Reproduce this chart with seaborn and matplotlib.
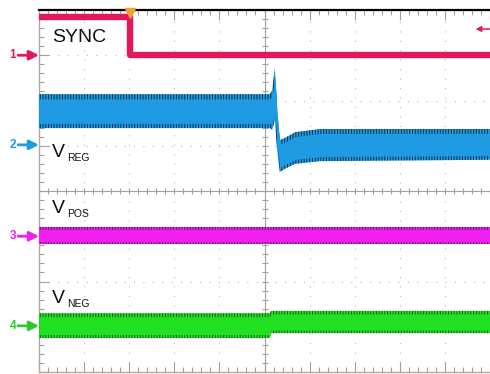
import numpy as np
import pandas as pd
import matplotlib
matplotlib.use("Agg")
import matplotlib.pyplot as plt
import seaborn as sns

# screen units: 10 time divisions x 8 vertical divisions
# SYNC (ch1) logic trace
sync_t = [0.0, 2.02, 2.02, 10.0]
sync_v = [7.85, 7.85, 7.0, 7.0]

# VREG (ch2) noise envelope, load step at ~5.2 div
vreg_t = [0.0, 5.12, 5.17, 5.23, 5.28, 5.34, 5.45, 5.68, 6.23, 10.0]
vreg_hi = [6.14, 6.14, 6.23, 6.72, 5.82, 5.13, 5.17, 5.30, 5.37, 5.37]
vreg_lo = [5.39, 5.39, 5.35, 5.57, 4.91, 4.42, 4.49, 4.60, 4.66, 4.69]

# VPOS (ch3) envelope
vpos_t = [0.0, 10.0]
vpos_hi = [3.20, 3.20]
vpos_lo = [2.83, 2.83]

# VNEG (ch4) envelope, small shift at the step
vneg_t = [0.0, 5.12, 5.14, 10.0]
vneg_hi = [1.30, 1.30, 1.35, 1.35]
vneg_lo = [0.75, 0.75, 0.86, 0.86]

# channel reference markers (left side)
ch_names = ["1", "2", "3", "4"]
ch_levels = [7.0, 5.02, 3.0, 1.02]
ch_colors = ["#E3185A", "#1E9BE3", "#F020F0", "#2CC82C"]

sns.set_style("white")
plt.rcParams["font.family"] = ["Liberation Sans", "DejaVu Sans"]
plt.rcParams["hatch.linewidth"] = 0.7

fig = plt.figure(figsize=(4.9, 3.74), dpi=100)
ax = fig.add_axes([39 / 490, 2 / 374, 451 / 490, 362 / 374])
ax.set_xlim(0, 10)
ax.set_ylim(0, 8)

# graticule
for x in range(1, 10):
    ax.axvline(x, color="#b8b8b8", lw=0.8, ls=(0, (1, 7.5)), zorder=0)
for y in range(1, 8):
    ax.axhline(y, color="#b8b8b8", lw=0.8, ls=(0, (1, 7.5)), zorder=0)
ax.axvline(5, color="#a0a0a0", lw=0.8, zorder=0)
ax.axhline(4, color="#a0a0a0", lw=0.8, zorder=0)
mt = np.arange(0, 10.01, 0.2)
ax.plot(mt, np.full_like(mt, 4), ls="none", marker="|", ms=5, mew=0.8, color="#a0a0a0", zorder=0)
mv = np.arange(0, 8.01, 0.2)
ax.plot(np.full_like(mv, 5), mv, ls="none", marker="_", ms=5, mew=0.8, color="#a0a0a0", zorder=0)

ax.set_xticks(range(0, 11))
ax.set_yticks(range(0, 9))
ax.set_xticks(mt, minor=True)
ax.set_yticks(mv, minor=True)
ax.tick_params(which="both", direction="in", top=True, bottom=True, left=True, right=False,
               labelbottom=False, labelleft=False, color="#a0a0a0")
ax.tick_params(which="major", length=7, width=0.8)
ax.tick_params(which="minor", length=3.5, width=0.8)
for side in ["left", "bottom"]:
    ax.spines[side].set_color("#b0a8a0")
    ax.spines[side].set_linewidth(1.0)
ax.spines["right"].set_visible(False)
ax.spines["top"].set_color("black")
ax.spines["top"].set_linewidth(1.6)


def noisy_band(t, hi, lo, core, fringe):
    hi = np.array(hi)
    lo = np.array(lo)
    mid = (hi + lo) / 2
    half = (hi - lo) / 2
    # ragged outer fringe drawn as dense vertical hatch
    ax.fill_between(t, lo, hi, facecolor=core, edgecolor=fringe, hatch="||||||", lw=0, zorder=3)
    ax.fill_between(t, mid - half * 0.72, mid + half * 0.72, color=core, lw=0, zorder=4)


noisy_band(vreg_t, vreg_hi, vreg_lo, "#1E9BE3", "#0E2E4A")
noisy_band(vpos_t, vpos_hi, vpos_lo, "#F020F0", "#5A1A5A")
noisy_band(vneg_t, vneg_hi, vneg_lo, "#22E022", "#1A5A1A")

sync_df = pd.DataFrame({"t": sync_t, "v": sync_v})
sns.lineplot(data=sync_df, x="t", y="v", estimator=None, sort=False,
             color="#E3185A", lw=4.6, ax=ax, zorder=5)

# trigger markers
ax.plot([2.02], [7.93], marker="v", ms=6.5, color="#F0A030", clip_on=False, zorder=8)
ax.annotate("", xy=(9.68, 7.58), xytext=(10.0, 7.58), annotation_clip=False,
            arrowprops=dict(arrowstyle="-|>", color="#E3185A", lw=1.1, mutation_scale=8,
                            shrinkA=0, shrinkB=0))

# channel markers
for name, lev, col in zip(ch_names, ch_levels, ch_colors):
    ax.annotate("", xy=(0.0, lev), xycoords=("axes fraction", "data"),
                xytext=(-15, 0), textcoords="offset points",
                arrowprops=dict(arrowstyle="-|>", color=col, lw=2.0, mutation_scale=14,
                                shrinkA=0, shrinkB=0))
    ax.annotate(name, xy=(0.0, lev), xycoords=("axes fraction", "data"),
                xytext=(-16.5, 0), textcoords="offset points",
                ha="right", va="center", fontsize=8.5, fontweight="bold", color=col)

# labels
ax.text(0.29, 7.29, "SYNC", fontsize=14, color="#111111", va="baseline", zorder=7)
for sub, yb in [("REG", 4.75), ("POS", 3.51), ("NEG", 1.52)]:
    ax.text(0.29, yb, "V", fontsize=14, color="#111111", va="baseline", zorder=7)
    ax.annotate(sub, xy=(0.29, yb), xytext=(10.5, -2.5), textcoords="offset points",
                fontsize=7.5, color="#111111", va="baseline", zorder=7)

fig.savefig("out.png", dpi=100)
